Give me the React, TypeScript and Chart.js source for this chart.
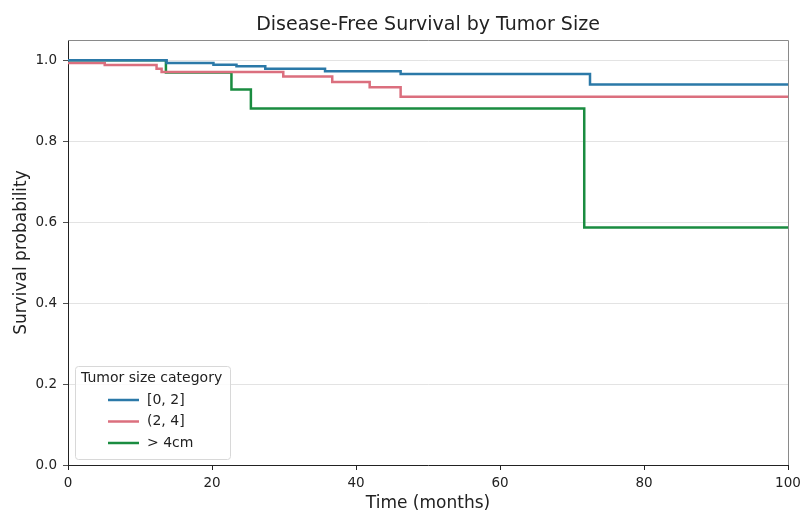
import React, { useEffect, useRef } from "react";
import { Chart, registerables } from "chart.js";

Chart.register(...registerables);

const chartTitle = "Disease-Free Survival by Tumor Size";
const xTitle = "Time (months)";
const yTitle = "Survival probability";
const legendTitle = "Tumor size category";

const seriesNames = ["[0, 2]", "(2, 4]", "> 4cm"];
const seriesColors = ["#2b79a8", "#db6f7e", "#1a8c40"];

const smallTimes = [0, 13.7, 20.2, 23.4, 27.4, 35.7, 46.2, 72.5, 100];
const smallSurv = [1.0, 0.993, 0.989, 0.985, 0.979, 0.973, 0.966, 0.94, 0.94];

const midTimes = [0, 5.1, 12.3, 13.0, 29.9, 36.7, 41.9, 46.2, 100];
const midSurv = [0.993, 0.988, 0.979, 0.971, 0.96, 0.946, 0.933, 0.91, 0.91];

const largeTimes = [0, 13.6, 22.7, 25.4, 71.7, 100];
const largeSurv = [1.0, 0.97, 0.928, 0.881, 0.587, 0.587];

const xTicks = [0, 20, 40, 60, 80, 100];
const yTicks = [0, 0.2, 0.4, 0.6, 0.8, 1.0];

const FONT = "'DejaVu Sans', sans-serif";

const pts = (t: number[], s: number[]) => t.map((x, i) => ({ x, y: s[i] }));

const overlay = {
  id: "overlay",
  afterDraw(chart: any) {
    const { ctx, chartArea } = chart;
    const { left, right, top, bottom } = chartArea;
    ctx.save();
    // top & right spines
    ctx.strokeStyle = "#8a8a8a";
    ctx.lineWidth = 1;
    ctx.beginPath();
    ctx.moveTo(left, top + 0.5);
    ctx.lineTo(right + 0.5, top + 0.5);
    ctx.lineTo(right + 0.5, bottom);
    ctx.stroke();

    // title
    ctx.fillStyle = "#222";
    ctx.font = `19px ${FONT}`;
    ctx.textAlign = "center";
    ctx.textBaseline = "alphabetic";
    ctx.fillText(chartTitle, (left + right) / 2, 30);

    // x title
    ctx.font = `17px ${FONT}`;
    ctx.fillText(xTitle, (left + right) / 2, 508);

    // y title
    ctx.save();
    ctx.translate(26, (top + bottom) / 2);
    ctx.rotate(-Math.PI / 2);
    ctx.fillText(yTitle, 0, 0);
    ctx.restore();

    // legend
    const bx = 75, by = 366, bw = 155, bh = 93;
    ctx.fillStyle = "rgba(255,255,255,0.85)";
    ctx.strokeStyle = "#d8d8d8";
    ctx.lineWidth = 1;
    ctx.beginPath();
    (ctx as any).roundRect(bx + 0.5, by + 0.5, bw, bh, 3);
    ctx.fill();
    ctx.stroke();
    ctx.fillStyle = "#222";
    ctx.font = `14px ${FONT}`;
    ctx.textAlign = "left";
    ctx.textBaseline = "middle";
    ctx.fillText(legendTitle, bx + 6, by + 12);
    seriesNames.forEach((name, i) => {
      const y = by + 34 + i * 21.5;
      ctx.strokeStyle = seriesColors[i];
      ctx.lineWidth = 2.5;
      ctx.beginPath();
      ctx.moveTo(bx + 33, y);
      ctx.lineTo(bx + 64, y);
      ctx.stroke();
      ctx.fillStyle = "#222";
      ctx.fillText(name, bx + 72, y);
    });
    ctx.restore();
  },
};

export default function App() {
  const ref = useRef<HTMLCanvasElement>(null);
  useEffect(() => {
    if (!ref.current) return;
    const mk = (i: number, t: number[], s: number[]) => ({
      label: seriesNames[i],
      data: pts(t, s),
      borderColor: seriesColors[i],
      backgroundColor: seriesColors[i],
      borderWidth: 2.5,
      pointRadius: 0,
      stepped: "before" as const,
      fill: false,
    });
    const chart = new Chart(ref.current, {
      type: "line",
      data: {
        datasets: [
          mk(0, smallTimes, smallSurv),
          mk(1, midTimes, midSurv),
          mk(2, largeTimes, largeSurv),
        ],
      },
      options: {
        animation: false,
        responsive: false,
        maintainAspectRatio: false,
        layout: { padding: { top: 40, right: 12, left: 0, bottom: 0 } },
        plugins: { legend: { display: false }, tooltip: { enabled: false }, title: { display: false } },
        scales: {
          x: {
            type: "linear",
            min: 0,
            max: 100,
            afterFit: (s: any) => { s.height = 45; s.paddingRight = 0; s.paddingLeft = 0; },
            afterBuildTicks: (s: any) => { s.ticks = xTicks.map((v) => ({ value: v })); },
            border: { display: true, color: "#222", width: 1 },
            grid: { display: true, drawOnChartArea: false, drawTicks: true, tickLength: 5, tickColor: "#222" },
            ticks: { color: "#222", font: { family: FONT, size: 13.5 }, padding: 5, maxRotation: 0 },
          },
          y: {
            type: "linear",
            min: 0,
            max: 1.05,
            afterFit: (s: any) => { s.width = 68; s.paddingTop = 0; s.paddingBottom = 0; },
            afterBuildTicks: (s: any) => { s.ticks = yTicks.map((v) => ({ value: v })); },
            border: { display: true, color: "#222", width: 1 },
            grid: {
              display: true,
              drawTicks: true,
              tickLength: 5,
              tickColor: "#222",
              color: "#dcdcdc",
              lineWidth: 0.8,
              borderDash: [2, 2],
            } as any,
            ticks: {
              color: "#222",
              font: { family: FONT, size: 13.5 },
              padding: 6,
              callback: (v: any) => Number(v).toFixed(1),
            },
          },
        },
      },
      plugins: [overlay],
    });
    return () => chart.destroy();
  }, []);
  return (
    <div style={{ position: "fixed", left: 0, top: 0, width: 800, height: 510, background: "#fff" }}>
      <canvas ref={ref} width={800} height={510} style={{ display: "block" }} />
    </div>
  );
}
